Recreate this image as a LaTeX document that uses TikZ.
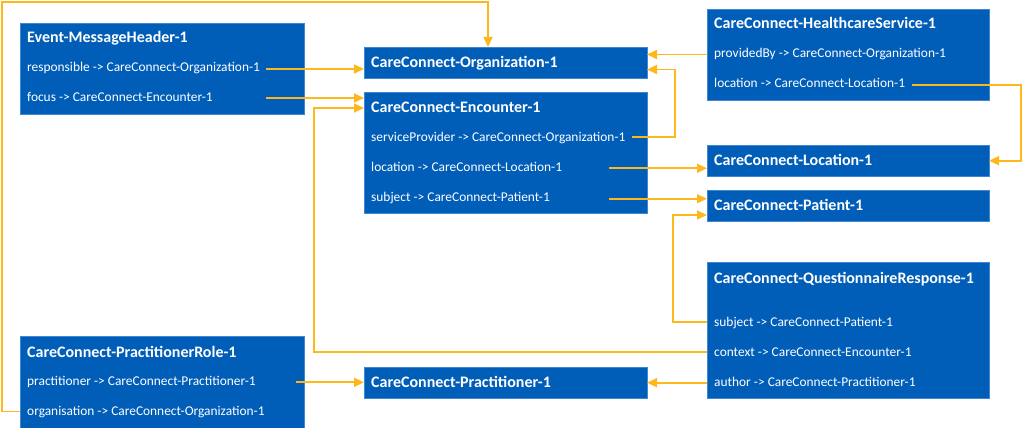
\documentclass[tikz,border=0pt]{standalone}
\usepackage{fontspec}
\setmainfont{Carlito}
\usetikzlibrary{arrows.meta}
\definecolor{nhsblue}{HTML}{005EB8}
\definecolor{boxedge}{HTML}{3F87D3}
\definecolor{linkorange}{HTML}{FFB81C}
\tikzset{
 res/.style={fill=nhsblue, draw=boxedge, line width=0.7pt, inner sep=0pt, outer sep=0pt, anchor=north west},
 ttl/.style={anchor=base west, inner sep=0pt, text=white, font=\fontsize{16}{18}\selectfont\bfseries},
 fld/.style={anchor=base west, inner sep=0pt, text=white, font=\fontsize{13.4}{15}\selectfont},
 link/.style={draw=linkorange, line width=1.7pt, -{Triangle[length=10pt,width=9pt]}}
}
\begin{document}
\begin{tikzpicture}[x=1pt,y=-1pt]
\useasboundingbox (0,0) rectangle (1026,428);
% boxes
\node[res, minimum width=284pt, minimum height=91pt] (emh) at (20,23) {};
\node[res, minimum width=283pt, minimum height=31pt] (org) at (364,47) {};
\node[res, minimum width=283pt, minimum height=121pt] (enc) at (364,92) {};
\node[res, minimum width=282pt, minimum height=91pt] (hs) at (707,9) {};
\node[res, minimum width=282pt, minimum height=31pt] (loc) at (707,145) {};
\node[res, minimum width=282pt, minimum height=31pt] (pat) at (707,190) {};
\node[res, minimum width=282pt, minimum height=136pt] (qr) at (707,262) {};
\node[res, minimum width=284pt, minimum height=92pt] (pr) at (20,336) {};
\node[res, minimum width=283pt, minimum height=31pt] (pract) at (364,367) {};
% texts
\node[ttl] (emh-t) at (27,43) {Event-MessageHeader-1};
\node[fld] (emh-r1) at (27,72) {responsible -> CareConnect-Organization-1};
\node[fld] (emh-r2) at (27,102) {focus -> CareConnect-Encounter-1};
\node[ttl] (org-t) at (371,67) {CareConnect-Organization-1};
\node[ttl] (enc-t) at (371,112) {CareConnect-Encounter-1};
\node[fld] (enc-r1) at (371,141) {serviceProvider -> CareConnect-Organization-1};
\node[fld] (enc-r2) at (371,171) {location -> CareConnect-Location-1};
\node[fld] (enc-r3) at (371,201) {subject -> CareConnect-Patient-1};
\node[ttl] (hs-t) at (714,29) {CareConnect-HealthcareService-1};
\node[fld] (hs-r1) at (714,58) {providedBy -> CareConnect-Organization-1};
\node[fld] (hs-r2) at (714,88) {location -> CareConnect-Location-1};
\node[ttl] (loc-t) at (714,165) {CareConnect-Location-1};
\node[ttl] (pat-t) at (714,210) {CareConnect-Patient-1};
\node[ttl] (qr-t) at (714,283) {CareConnect-QuestionnaireResponse-1};
\node[fld] (qr-r1) at (714,326) {subject -> CareConnect-Patient-1};
\node[fld] (qr-r2) at (714,356) {context -> CareConnect-Encounter-1};
\node[fld] (qr-r3) at (714,386) {author -> CareConnect-Practitioner-1};
\node[ttl] (pr-t) at (27,357) {CareConnect-PractitionerRole-1};
\node[fld] (pr-r1) at (27,385) {practitioner -> CareConnect-Practitioner-1};
\node[fld] (pr-r2) at (27,415) {organisation -> CareConnect-Organization-1};
\node[ttl] (pract-t) at (371,387) {CareConnect-Practitioner-1};
% connector points
\coordinate (c-resp) at (266,69);
\coordinate (c-focus) at (266,98);
\coordinate (c-ctx) at (707,352);
\coordinate (k-ctx) at (314,108);
\coordinate (k-o1) at (2,411.5);
\coordinate (k-o2) at (2,2);
\coordinate (k-o3) at (488,2);
\coordinate (c-sp) at (632,137.3);
\coordinate (k-sp) at (675,69.5);
\coordinate (c-pb) at (707,54.5);
\coordinate (c-hl) at (912,84.7);
\coordinate (k-hl) at (1021,160.7);
\coordinate (c-el) at (609,168.3);
\coordinate (c-es) at (609,198.7);
\coordinate (c-qs) at (707,322.3);
\coordinate (k-qs) at (673,215);
\coordinate (c-pp) at (296,382.3);
\coordinate (c-au) at (707,382.7);
% connectors
\draw[link] (c-resp) -- (org.west |- c-resp);
\draw[link] (c-focus) -- (enc.west |- c-focus);
\draw[link] (c-ctx) -| (k-ctx) -- (enc.west |- k-ctx);
\draw[link] (pr.west |- k-o1) -- (k-o1) -- (k-o2) -- (k-o3) -- (org.north -| k-o3);
\draw[link] (c-sp) -| (k-sp) -- (org.east |- k-sp);
\draw[link] (hs.west |- c-pb) -- (org.east |- c-pb);
\draw[link] (c-hl) -| (k-hl) -- (loc.east |- k-hl);
\draw[link] (c-el) -- (loc.west |- c-el);
\draw[link] (c-es) -- (pat.west |- c-es);
\draw[link] (c-qs) -| (k-qs) -- (pat.west |- k-qs);
\draw[link] (c-pp) -- (pract.west |- c-pp);
\draw[link] (c-au) -- (pract.east |- c-au);
\end{tikzpicture}
\end{document}
